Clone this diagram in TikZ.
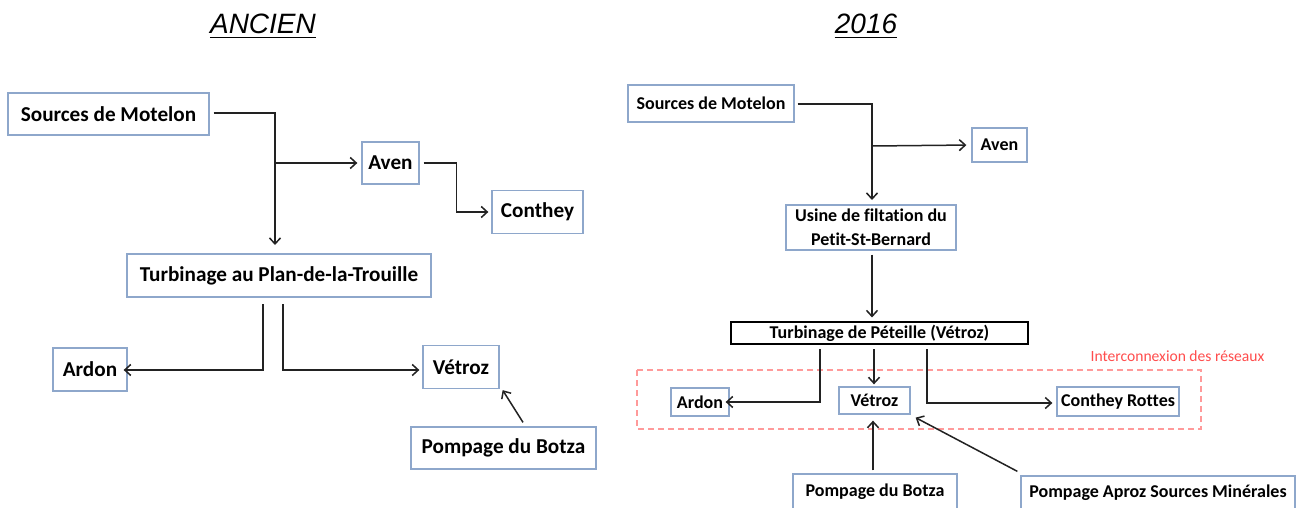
\documentclass[tikz,border=0pt]{standalone}
\usepackage{fontspec}
\setmainfont{Carlito}[Ligatures={NoCommon}]
\newfontfamily\arialf{Liberation Sans}
\usetikzlibrary{arrows.meta,calc}
\definecolor{boxc}{HTML}{8EA7CB}
\definecolor{linec}{HTML}{222222}
\definecolor{redl}{HTML}{FF4D4D}
\definecolor{redd}{HTML}{FF9A9A}
\tikzset{
  bx/.style={draw=boxc, line width=1.3pt, fill=white, inner sep=0pt, align=center, font=\bfseries},
  bigf/.style={font=\fontsize{21.2}{24}\selectfont\bfseries},
  smf/.style={font=\fontsize{18}{24.5}\selectfont\bfseries},
  conn/.style={draw=linec, line width=1.5pt},
  arr/.style={conn, -{Straight Barb[length=6pt,width=11pt,line width=1.5pt]}},
  ttl/.style={font=\arialf\itshape\fontsize{28}{30}\selectfont, inner sep=0pt}
}
\begin{document}
\begin{tikzpicture}[x=1pt,y=-1pt]
\useasboundingbox (0,0) rectangle (1307,508);
\fill[white] (0,0) rectangle (1307,508);
% titles
\node[ttl] (t1) at (263,24) {ANCIEN};
\draw[line width=1.2pt] ([yshift=-3pt]t1.south west) -- ([yshift=-3pt]t1.south east);
\node[ttl] (t2) at (866,24) {2016};
\draw[line width=1.2pt] ([yshift=-3pt]t2.south west) -- ([yshift=-3pt]t2.south east);

% ---------------- left panel
\node[bx,bigf,minimum width=201pt,minimum height=42pt] (sm1) at (108.5,114) {Sources de Motelon};
\node[bx,bigf,minimum width=57pt,minimum height=42pt] (aven1) at (390.5,163) {Aven};
\node[bx,bigf,minimum width=91pt,minimum height=43pt] (con1) at (537.5,212) {Conthey};
\node[bx,bigf,minimum width=304pt,minimum height=43pt] (turb1) at (279,275.5) {Turbinage au Plan-de-la-Trouille};
\node[bx,bigf,minimum width=74pt,minimum height=43pt] (ardon1) at (90,369.5) {Ardon};
\node[bx,bigf,minimum width=76pt,minimum height=43pt] (vet1) at (461,367) {Vétroz};
\node[bx,bigf,minimum width=185pt,minimum height=42pt] (botza1) at (503.5,448) {Pompage du Botza};

\coordinate (j1) at (275,113);
\coordinate (j1b) at (275,163);
\coordinate (j1e) at (275,245);
\draw[arr] ([xshift=4pt]sm1.east |- j1) -- (j1) -- (j1e);
\draw[arr, shorten >=4pt] (j1b) -- (aven1.west);
\draw[arr] ([xshift=4pt]aven1.east) -- ++(33,0) |- ([xshift=-3pt]con1.west);
\coordinate (l1) at (263,304);
\coordinate (r1) at (283,304);
\draw[arr] (l1) |- ([xshift=-4pt]ardon1.east |- 0,370);
\draw[arr] (r1) |- ([xshift=-3pt]vet1.west |- 0,370);
\draw[arr] ($(botza1.north)+(19.5,-4)$) -- ($(vet1.south east)+(3,1)$);

% ---------------- right panel
\node[bx,smf,minimum width=166pt,minimum height=37pt] (sm2) at (711,103.5) {Sources de Motelon};
\node[bx,smf,minimum width=55pt,minimum height=34pt] (aven2) at (999.5,145) {Aven};
\node[bx,smf,minimum width=170pt,minimum height=45pt] (usine2) at (871,227.5) {Usine de filtation du\\Petit-St-Bernard};
\node[bx,smf,draw=black,line width=1.1pt,minimum width=297pt,minimum height=22pt] (turb2) at (879.5,333) {Turbinage de Péteille (Vétroz)};
\node[bx,smf,minimum width=58pt,minimum height=28pt] (ardon2) at (700,402) {Ardon};
\node[bx,smf,minimum width=71pt,minimum height=27pt] (vet2) at (874.5,400.5) {Vétroz};
\node[bx,smf,minimum width=122pt,minimum height=29pt] (cr2) at (1118,401.5) {Conthey Rottes};
\node[bx,smf,minimum width=164pt,minimum height=36pt] (botza2) at (875,492) {Pompage du Botza};
\node[bx,smf,minimum width=274pt,minimum height=34pt] (aproz2) at (1158,493) {Pompage Aproz Sources Minérales};

\draw[redd, line width=1.2pt, dash pattern=on 6pt off 4pt] (637,370) rectangle (1201,429);
\node[text=redl, font=\fontsize{15.6}{18}\selectfont, inner sep=0pt] (inter) at (1177.5,356) {Interconnexion des réseaux};

\coordinate (j2) at (872,104);
\coordinate (j2b) at (872,146);
\coordinate (j2e) at (872,200);
\draw[arr] ([xshift=3pt]sm2.east |- j2) -- (j2) -- (j2e);
\draw[arr, shorten >=5pt] (j2b) -- (aven2.west);
\draw[arr] ([yshift=-4pt]usine2.south -| j2) -- ([yshift=4pt]turb2.north -| j2);
\coordinate (tl) at (820,349);
\coordinate (tm) at (874,349);
\coordinate (tr) at (927,349);
\draw[arr] (tl) |- ([xshift=-4pt]ardon2.east |- 0,402);
\draw[arr] (tm) -- ([yshift=2pt]vet2.north -| tm);
\draw[arr] (tr) |- ([xshift=-4pt]cr2.west |- 0,403);
\draw[arr] ([yshift=3pt]botza2.north -| 873,0) -- ([yshift=-6pt]vet2.south -| 873,0);
\draw[arr] ($(aproz2.north west)+(-3,-4)$) -- ($(vet2.south east)+(5,3)$);
\end{tikzpicture}
\end{document}
